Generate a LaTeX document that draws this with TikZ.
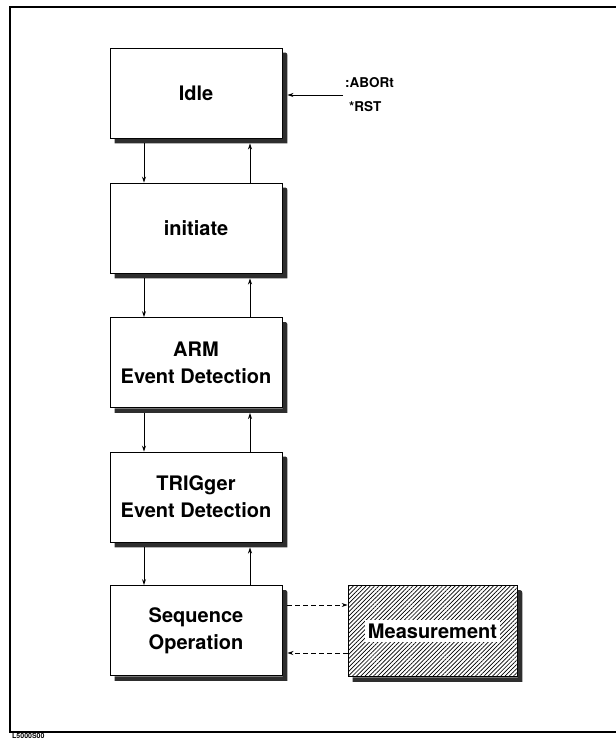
\documentclass[tikz,border=0pt]{standalone}
\usepackage{fontspec}
\setmainfont{TeX Gyre Heros}
\usetikzlibrary{patterns.meta,arrows.meta}
\begin{document}
\begin{tikzpicture}[x=1pt,y=-1pt,
  stbox/.style={draw,line width=0.9pt,minimum width=172pt,minimum height=90pt,
    inner sep=0pt,align=center,font=\fontsize{20}{27}\selectfont\bfseries,fill=white},
  mbox/.style={draw,line width=0.9pt,minimum width=169pt,minimum height=91pt,inner sep=0pt,
    preaction={fill=white},pattern={Lines[angle=45,distance=3pt,line width=0.7pt]}},
  shadowfill/.style={fill=black!82,draw=none},
  arr/.style={line width=0.9pt,-{Stealth[length=6pt,width=4pt]}},
  darr/.style={arr,dash pattern=on 5pt off 3pt},
  small/.style={font=\fontsize{13.5}{15}\selectfont\bfseries,inner sep=0pt}]
\useasboundingbox (0,0) rectangle (616,740);
% frame
\coordinate (ftr) at (616,7);
\coordinate (ftl) at (10,7);
\coordinate (fbl) at (10,732);
\coordinate (fbr) at (616,732);
\draw[line width=1.2pt] (ftr) -- (ftl) -- (fbl) -- (fbr);
\node[anchor=north west,font=\fontsize{7}{8}\selectfont\bfseries,inner sep=0pt] (code) at (12,733.5) {L5000S00};
% boxes
\node[stbox] (idle) at (196,93) {Idle};
\node[stbox] (init) at (196,228) {initiate};
\node[stbox] (arm) at (196,362.5) {ARM\\Event Detection};
\node[stbox] (trig) at (196,497) {TRIGger\\Event Detection};
\node[stbox] (seq) at (196,630.5) {Sequence\\Operation};
\node[mbox] (meas) at (432.5,631) {};
\node[fill=white,inner xsep=3pt,inner ysep=4pt,font=\fontsize{20}{24}\selectfont\bfseries] (mtext) at (meas.center) {Measurement};
% shadows (L-shaped strips right and below each box)
\foreach \b in {idle,init,arm,trig,seq,meas}{
  \fill[shadowfill] ([shift={(0.4,5)}]\b.north east) -- ([shift={(3,5)}]\b.north east)
    to[out=0,in=90] ([shift={(5,8)}]\b.north east)
    -- ([shift={(5,5)}]\b.south east) -- ([shift={(5,5)}]\b.south west)
    -- ([shift={(5,0.4)}]\b.south west) -- ([shift={(0.4,0.4)}]\b.south east) -- cycle;
}
% vertical connectors
\foreach \a/\b in {idle/init,init/arm,arm/trig,trig/seq}{
  \draw[arr] ([shift={(-52,5)}]\a.south) -- ([xshift=-52pt]\b.north);
  \draw[arr] ([xshift=54pt]\b.north) -- ([shift={(54,5)}]\a.south);
}
% abort / rst
\node[small,anchor=west] (abort) at (345,83) {:ABORt};
\node[small,anchor=west] (rst) at (349,107) {*RST};
\coordinate (abs) at (343,95);
\draw[arr] (abs) -- ([xshift=5pt]idle.east |- abs);
% dashed links
\draw[darr] ([xshift=5pt]seq.east |- 0,605) -- (meas.west |- 0,605);
\draw[darr] (meas.west |- 0,653) -- ([xshift=5pt]seq.east |- 0,653);
\end{tikzpicture}
\end{document}
